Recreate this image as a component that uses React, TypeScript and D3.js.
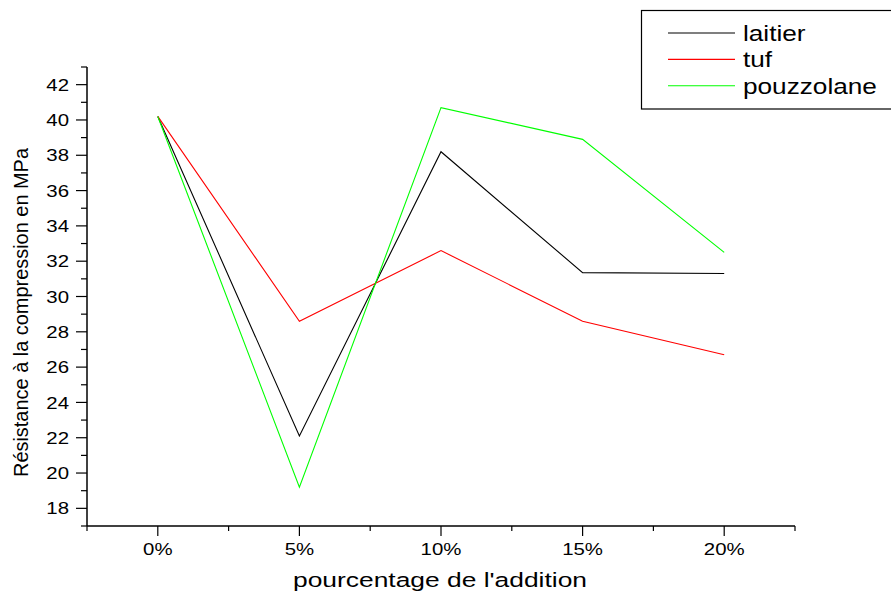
import React from "react";
import * as d3 from "d3";

const categories = [0, 5, 10, 15, 20];
const tickLabels = ["0%", "5%", "10%", "15%", "20%"];
const laitier = [40.2, 22.1, 38.2, 31.35, 31.3];
const tuf = [40.2, 28.6, 32.6, 28.6, 26.7];
const pouzzolane = [40.2, 19.2, 40.7, 38.9, 32.5];
const yTicks = [18, 20, 22, 24, 26, 28, 30, 32, 34, 36, 38, 40, 42];
const seriesNames = ["laitier", "tuf", "pouzzolane"];
const seriesColors = ["#000000", "#ff0000", "#00ff00"];

const W = 891;
const H = 592;
const FONT = "Liberation Sans, Arial, sans-serif";

// Text drawn with a slight horizontal stretch, anchored at (x, y).
function Wide(props: {
  x: number;
  y: number;
  sx: number;
  size: number;
  anchor?: "start" | "middle" | "end";
  dy?: string;
  children: React.ReactNode;
}) {
  const { x, y, sx, size, anchor = "start", dy = "0", children } = props;
  return (
    <g transform={`translate(${x},${y}) scale(${sx},1)`}>
      <text x={0} y={0} dy={dy} textAnchor={anchor} fontSize={size} fill="#000">
        {children}
      </text>
    </g>
  );
}

export default function App() {
  const x = d3.scaleLinear().domain([-2.5, 22.5]).range([87, 795]);
  const y = d3.scaleLinear().domain([17, 43]).range([526, 67]);
  const line = d3
    .line<number>()
    .x((_, i) => x(categories[i]))
    .y((d) => y(d));
  const series = [laitier, tuf, pouzzolane];
  const minorX = d3.range(-2.5, 22.6, 5);
  const minorY = d3.range(17, 43.1, 2);

  return (
    <svg
      width={W}
      height={H}
      style={{ position: "absolute", left: 0, top: 0, background: "#fff" }}
      fontFamily={FONT}
    >
      <rect width={W} height={H} fill="#fff" />
      {/* data lines */}
      {series.map((s, i) => (
        <path key={i} d={line(s) || ""} fill="none" stroke={seriesColors[i]} strokeWidth={1.1} />
      ))}
      {/* y axis */}
      <line x1={87} x2={87} y1={y(43)} y2={y(17)} stroke="#000" strokeWidth={1.5} />
      {yTicks.map((t) => (
        <g key={t}>
          <line x1={76} x2={87} y1={y(t)} y2={y(t)} stroke="#000" strokeWidth={1.2} />
          <Wide x={69} y={y(t)} sx={1.2} size={17} anchor="end" dy="0.36em">
            {t}
          </Wide>
        </g>
      ))}
      {minorY.map((t) => (
        <line key={t} x1={81} x2={87} y1={y(t)} y2={y(t)} stroke="#000" strokeWidth={1.2} />
      ))}
      {/* x axis */}
      <line x1={x(-2.5)} x2={x(22.5)} y1={526} y2={526} stroke="#000" strokeWidth={1.5} />
      {categories.map((c, i) => (
        <g key={c}>
          <line x1={x(c)} x2={x(c)} y1={526} y2={536} stroke="#000" strokeWidth={1.2} />
          <Wide x={x(c)} y={549} sx={1.2} size={17} anchor="middle" dy="0.36em">
            {tickLabels[i]}
          </Wide>
        </g>
      ))}
      {minorX.map((c) => (
        <line key={c} x1={x(c)} x2={x(c)} y1={526} y2={531} stroke="#000" strokeWidth={1.2} />
      ))}
      {/* axis titles */}
      <text
        x={440}
        y={586.5}
        textAnchor="middle"
        fontSize={20.5}
        fill="#000"
        textLength={294}
        lengthAdjust="spacingAndGlyphs"
      >
        pourcentage de l'addition
      </text>
      <text
        transform={`translate(28,312.5) rotate(-90)`}
        textAnchor="middle"
        fontSize={20}
        fill="#000"
        textLength={329}
        lengthAdjust="spacingAndGlyphs"
      >
        Résistance à la compression en MPa
      </text>
      {/* legend */}
      <rect x={641.5} y={10.5} width={260} height={98.5} fill="#fff" stroke="#000" strokeWidth={1.2} />
      {seriesNames.map((n, i) => (
        <g key={n}>
          <line
            x1={668}
            x2={735}
            y1={33 + i * 26.4}
            y2={33 + i * 26.4}
            stroke={seriesColors[i]}
            strokeWidth={1.1}
          />
          <Wide x={743} y={33 + i * 26.4} sx={1.19} size={22} dy="0.36em">
            {n}
          </Wide>
        </g>
      ))}
    </svg>
  );
}
